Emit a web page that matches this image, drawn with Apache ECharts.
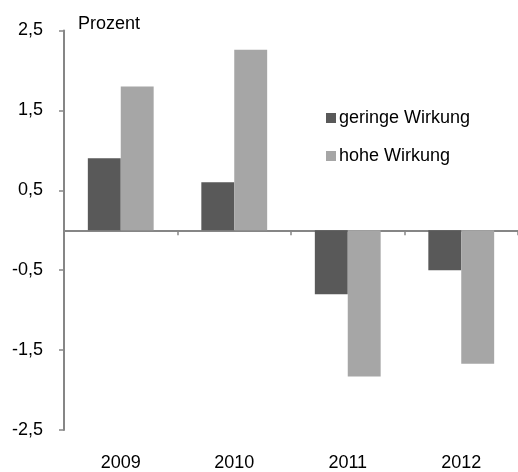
<!DOCTYPE html>
<html>
<head>
<meta charset="utf-8">
<script src="https://cdn.jsdelivr.net/npm/echarts@6/dist/echarts.min.js"></script>
<style>
  html, body { margin: 0; padding: 0; background: #fff; }
  #chart { width: 518px; height: 472px; }
</style>
</head>
<body>
<div id="chart"></div>
<script>
// Daten
const years = ["2009", "2010", "2011", "2012"];
const geringeWirkung = [0.9, 0.6, -0.8, -0.5];
const hoheWirkung = [1.8, 2.26, -1.83, -1.67];

const axisColor = "#868686";
const font = "Liberation Sans, Arial, sans-serif";

let chart = echarts.init(document.getElementById("chart"));
chart.setOption({
  animation: false,
  textStyle: { fontFamily: font },
  title: {
    text: "Prozent",
    left: 73,
    top: 10,
    textStyle: { fontSize: 18, fontWeight: "normal", color: "#000", fontFamily: font },
  },
  legend: {
    orient: "vertical",
    left: 321,
    top: 104,
    itemWidth: 10,
    itemHeight: 10,
    itemGap: 20,
    icon: "rect",
    textStyle: { fontSize: 18, color: "#000", fontFamily: font, padding: [0, 0, 0, -2] },
    data: ["geringe Wirkung", "hohe Wirkung"],
  },
  grid: { left: 64, right: 0, top: 30.5, bottom: 40.5, containLabel: false },
  xAxis: [
    {
      type: "category",
      data: years,
      position: "bottom",
      axisLine: { show: false, onZero: false },
      axisTick: { show: false },
      axisLabel: { fontSize: 18, color: "#000", margin: 24, fontFamily: font },
    },
    {
      type: "category",
      data: years,
      position: "bottom",
      axisLine: { show: true, onZero: true, lineStyle: { color: axisColor, width: 2 } },
      axisTick: { show: true, length: 5, lineStyle: { color: axisColor, width: 1.5 } },
      axisLabel: { show: false },
    },
  ],
  yAxis: {
    type: "value",
    min: -2.5,
    max: 2.5,
    interval: 1,
    axisLine: { show: true, lineStyle: { color: axisColor, width: 2 } },
    axisTick: { show: true, length: 5, lineStyle: { color: axisColor, width: 1.5 } },
    splitLine: { show: false },
    axisLabel: {
      fontSize: 18,
      color: "#000",
      margin: 21,
      fontFamily: font,
      formatter: (v) => v.toFixed(1).replace(".", ","),
    },
  },
  series: [
    {
      name: "geringe Wirkung",
      type: "bar",
      data: geringeWirkung,
      barGap: "0%",
      barCategoryGap: "42%",
      itemStyle: { color: "#595959" },
    },
    {
      name: "hohe Wirkung",
      type: "bar",
      data: hoheWirkung,
      barGap: "0%",
      barCategoryGap: "42%",
      itemStyle: { color: "#a6a6a6" },
    },
  ],
});
</script>
</body>
</html>
